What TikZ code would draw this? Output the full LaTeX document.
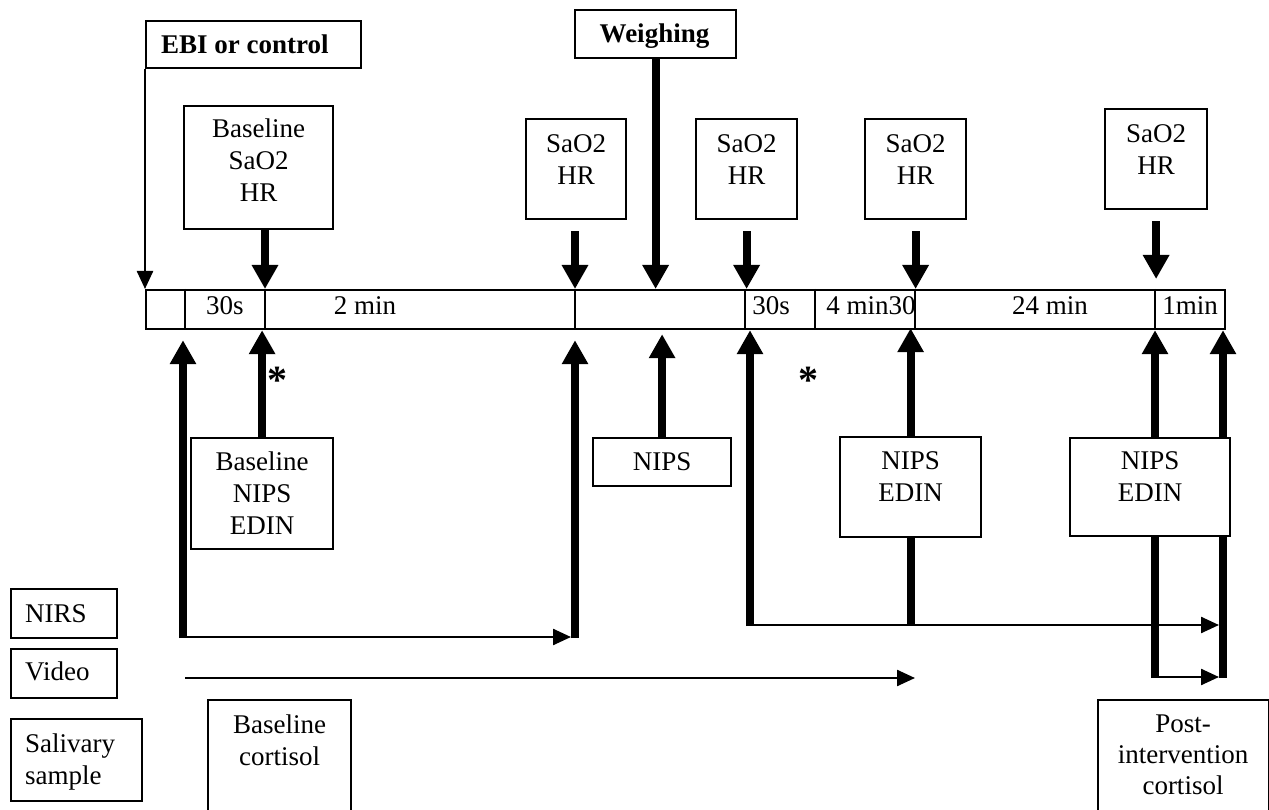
\documentclass[tikz,border=0pt]{standalone}
\usepackage{fontspec}
\setmainfont{Liberation Serif}
\usetikzlibrary{arrows.meta,calc}
\begin{document}
\begin{tikzpicture}[x=1pt,y=-1pt,
  every node/.style={font=\fontsize{27}{32}\selectfont},
  pbox/.style={draw, line width=2.2pt, fill=white, inner sep=0pt, anchor=north west},
  txt/.style={inner sep=0pt, anchor=base, align=center},
  mtxt/.style={inner sep=0pt, anchor=north, align=center},
  asttxt/.style={inner sep=0pt, anchor=base, font=\fontsize{40}{40}\selectfont\bfseries},
  thickarrow/.style={line width=8pt, -{Triangle[width=25pt,length=24pt]}},
  thinarrow/.style={line width=2.4pt, -{Triangle[width=16pt,length=18pt]}},
  thickline/.style={line width=8pt},
  divline/.style={line width=2.2pt},
  ]
\useasboundingbox (0,0) rectangle (1269,810);

% ---- top boxes
\node[pbox, minimum width=215pt, minimum height=47pt] (ebi) at (145,20) {};
\node[inner sep=0pt, anchor=north west, font=\fontsize{27}{32}\selectfont\bfseries] (ebit) at (161,34.5) {EBI or control};
\node[pbox, minimum width=161pt, minimum height=48pt] (weigh) at (574,9) {};
\node[txt, font=\fontsize{27}{32}\selectfont\bfseries] (weight) at (654.5,43) {Weighing};
\node[pbox, minimum width=149pt, minimum height=123pt] (bsh) at (183,105) {};
\node[mtxt] (bsht) at (bsh.north |- 0,118.5) {Baseline\\SaO2\\HR};
\node[pbox, minimum width=100pt, minimum height=100pt] (s1) at (525,118) {};
\node[mtxt] (s1t) at (s1.north |- 0,134.5) {SaO2\\HR};
\node[pbox, minimum width=101pt, minimum height=100pt] (s2) at (695,118) {};
\node[mtxt] (s2t) at (s2.north |- 0,134.5) {SaO2\\HR};
\node[pbox, minimum width=101pt, minimum height=100pt] (s3) at (864,118) {};
\node[mtxt] (s3t) at (s3.north |- 0,134.5) {SaO2\\HR};
\node[pbox, minimum width=102pt, minimum height=100pt] (s4) at (1104,108) {};
\node[mtxt] (s4t) at (s4.north |- 0,124.5) {SaO2\\HR};

% ---- timeline
\node[pbox, minimum width=1079pt, minimum height=39pt] (tl) at (145,289) {};
\foreach \x/\n in {185/a,265/b,575/c,745/d,815/e,915/f,1155/g}
  \coordinate (d\n) at (\x,289);
\foreach \n in {a,b,c,d,e,f,g}
  \draw[divline] (d\n) -- (d\n |- tl.south);
\node[txt] (l30a) at (225,315) {30s};
\node[txt] (l2m) at (365,315) {2 min};
\node[txt] (l30b) at (771,315) {30s};
\node[txt] (l4m) at (871,315) {4 min30};
\node[txt] (l24m) at (1050,315) {24 min};
\node[txt] (l1m) at (1190,315) {1min};

% ---- top arrows
\draw[thinarrow] (ebi.south west) -- (ebi.south west |- tl.north);
\draw[thickarrow] (bsh.south -| db) -- (db);
\draw[thickarrow, shorten <=11pt] (s1.south -| dc) -- (dc);
\draw[thickarrow] (weigh.south) -- (weigh.south |- tl.north);
\draw[thickarrow, shorten <=11pt] (s2.south) -- (s2.south |- tl.north);
\draw[thickarrow, shorten <=11pt] (s3.south) -- (s3.south |- tl.north);
\draw[thickarrow, shorten <=11pt, shorten >=10pt] (s4.south) -- (s4.south |- tl.north);

% ---- lower boxes
\node[pbox, minimum width=142pt, minimum height=111pt] (bne) at (190,437) {};
\node[mtxt] (bnet) at (bne.north |- 0,451.5) {Baseline\\NIPS\\EDIN};
\node[pbox, minimum width=138pt, minimum height=48pt] (nips) at (592,437) {};
\node[txt] (nipst) at (nips.north |- 0,470) {NIPS};
\node[pbox, minimum width=141pt, minimum height=100pt] (ne1) at (839,436) {};
\node[mtxt] (ne1t) at (ne1.north |- 0,451.5) {NIPS\\EDIN};
\node[pbox, minimum width=160pt, minimum height=98pt] (ne2) at (1069,437) {};
\node[mtxt] (ne2t) at (ne2.north |- 0,451.5) {NIPS\\EDIN};

\node[pbox, minimum width=106pt, minimum height=49pt] (nirs) at (10,588) {};
\node[inner sep=0pt, anchor=base west] (nirst) at (25,622) {NIRS};
\node[pbox, minimum width=106pt, minimum height=49pt] (video) at (10,648) {};
\node[inner sep=0pt, anchor=base west] (videot) at (25,680) {Video};
\node[pbox, minimum width=131pt, minimum height=82pt] (saliv) at (10,718) {};
\node[inner sep=0pt, anchor=north west, align=left] (salivt) at (25,733.5) {Salivary\\sample};
\node[pbox, minimum width=143pt, minimum height=125pt] (bcort) at (207,699) {};
\node[mtxt] (bcortt) at (bcort.north |- 0,714.5) {Baseline\\cortisol};
\node[pbox, minimum width=171pt, minimum height=125pt] (pcort) at (1097,699) {};
\node[mtxt, font=\fontsize{27}{31}\selectfont] (pcortt) at (1183,714.5) {Post-\\intervention\\cortisol};

% ---- asterisks
\node[asttxt] (ast1) at (277,393) {*};
\node[asttxt] (ast2) at (808,393) {*};

% ---- lower arrows
\draw[thickarrow] (bne.north) -- (bne.north |- tl.south);
\draw[thickarrow, shorten >=4pt] (nips.north) -- (nips.north |- tl.south);
\draw[thickarrow, shorten >=-2pt] (ne1.north) -- (ne1.north |- tl.south);

% left bracket
\coordinate (la) at (183,638);
\coordinate (lb) at (575,638);
\draw[thickarrow, shorten >=10pt] (la) -- (la |- tl.south);
\draw[thickarrow, shorten >=10pt] (lb) -- (lb |- tl.south);
\draw[thinarrow, shorten >=4pt] ($(la)+(0,-1)$) -- ($(lb)+(0,-1)$);

% middle bracket
\coordinate (ma) at (750,626);
\coordinate (ra) at (1155,678);
\coordinate (rb) at (1223,678);
\draw[thickarrow] (ma) -- (ma |- tl.south);
\draw[thickline] (ne1.south) -- (ne1.south |- ma);
\draw[thinarrow, shorten >=4pt] ($(ma)+(0,-1)$) -- ($(ma -| rb)+(0,-1)$);

% right bracket
\draw[thickline] (ra) -- (ra |- ne2.south);
\draw[thickline] (rb) -- (rb |- ne2.south);
\draw[thickarrow] (ra |- ne2.north) -- (ra |- tl.south);
\draw[thickarrow] (rb |- ne2.north) -- (rb |- tl.south);
\draw[thinarrow, shorten >=4pt] ($(ra)+(0,-1)$) -- ($(rb)+(0,-1)$);

% video line
\coordinate (va) at (185,678);
\coordinate (vb) at (915,678);
\draw[thinarrow] (va) -- (vb);
\end{tikzpicture}
\end{document}
